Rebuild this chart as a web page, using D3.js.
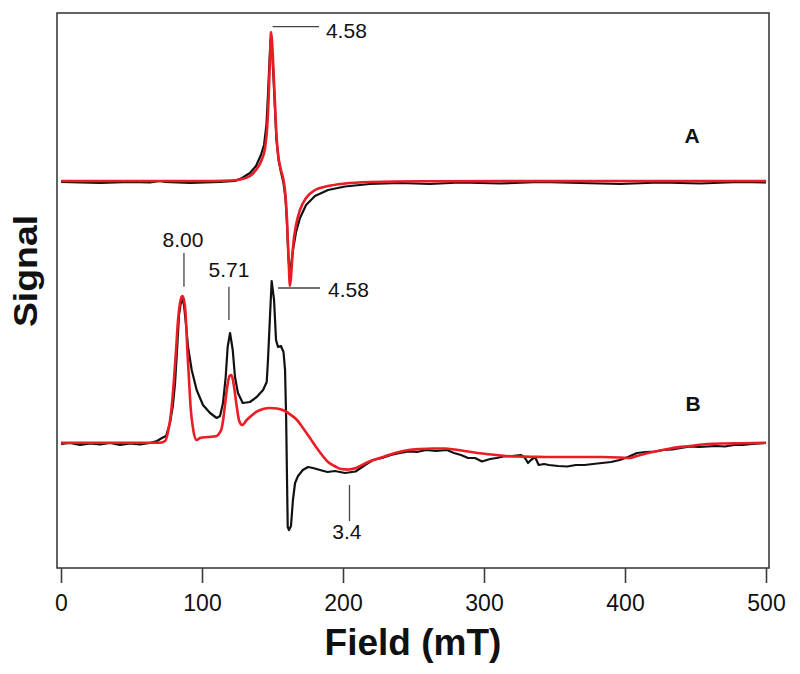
<!DOCTYPE html>
<html><head><meta charset="utf-8">
<script src="https://cdn.jsdelivr.net/npm/d3@7"></script>
<style>html,body{margin:0;padding:0;background:#fff}svg{display:block}</style>
</head><body>
<svg id="chart" width="800" height="674"></svg>
<script>
// ---- data (field in mT, signal in arbitrary units) ----
const xTicks = [0, 100, 200, 300, 400, 500];

const blackA_field = [0,27.7,48.9,63.1,70.2,73.8,91.5,112.8,123.4,128.4,134.0,138.3,141.8,144.0,145.7,146.8,147.9,148.6,149.6,150.7,151.8,152.8,154.3,156.0,157.8,159.2,160.3,161.3,162.2,163.1,164.5,166.7,169.5,173.8,180.1,189.4,201.4,219.1,240.4,261.7,283.0,311.3,339.7,368.1,396.5,424.8,453.2,481.6,500];
const blackA_signal = [386,385,386,385.5,387,386,385,386,387,390,395,402,413,423,443,473,508,528,520,490,458,428,408,396,385,370,343,310,296,302,318,336,350,363,372,378,381.5,384,385,384,385.5,384.5,386,385,384,385.5,384.5,386,385.5];

const redA_field = [0,98.6,119.9,127.0,134.0,138.3,142.3,144.7,146.1,147.2,148.2,148.9,149.6,150.7,151.8,152.8,154.3,156.0,157.8,159.2,160.3,161.3,162.4,163.5,164.5,166.7,169.5,173.8,180.1,189.4,201.4,219.1,254.6,500];
const redA_signal = [387,387,387.5,388.5,392,398,408,420,438,468,508,536,528,498,463,433,410,398,388,373,348,313,282,298,320,343,358,370,378,382,384.5,386,386.8,387];

const blackB_field = [0,6.4,13.5,20.6,27.7,34.8,41.8,48.9,56.0,63.1,68.1,71.6,74.5,77.3,79.4,80.9,82.3,83.7,85.6,87.2,88.7,90.1,92.7,96.2,100.7,105.7,110.4,112.8,114.9,116.8,118.2,119.9,121.8,123.4,125.5,128.9,134.0,138.8,143.3,145.9,146.8,148.2,149.4,151.1,152.5,153.9,156.0,157.8,158.9,159.7,160.3,160.8,161.7,163.1,164.5,166.0,168.1,171.5,175.2,178.7,183.7,189.0,194.3,201.4,208.9,215.6,221.3,227.7,234.0,240.4,246.5,252.5,258.9,266.0,273.8,278.7,283.7,288.7,293.6,298.6,304.3,308.9,313.8,319.9,326.2,329.1,331.2,333.3,336.2,338.8,342.6,346.1,352.5,358.9,365.2,371.3,377.3,383.7,390.1,396.2,402.1,408.5,414.9,421.3,427.0,433.7,439.7,446.1,452.5,458.6,464.5,470.9,477.3,483.7,490.1,495.7,500];
const blackB_signal = [124,125,123,124.5,123.5,125,123,124.5,123.5,125,127,130,132,145,163,185,218,253,271,263,243,221,198,178,163,155,150,152,165,191,221,235,218,191,175,165,166,171,178,186,208,251,287,268,228,221,222,216,198,148,88,41,38,42,68,85,92,98,101,100,98,96,97,95,96.5,103,108,110,113,115,116.5,116,118,117,118,115,113,110,110,106.5,109,110,111.5,112,113,110,105,108,111,103,104,103,102,101.5,103,103,104,105,106,108,111,115,116,116.5,118,118.5,120,121.5,121,121.5,122,121.5,123,123,124,124.5,125];

const redB_field = [0,70.2,73.8,75.9,78.5,80.1,81.6,83.0,84.4,86.0,87.2,88.3,89.6,90.8,91.8,93.8,96.2,98.6,104.3,110.4,112.4,114.0,115.2,116.7,118.1,119.5,120.9,122.3,124.6,126.2,128.4,131.7,134.8,138.8,143.3,148.2,153.2,158.9,163.1,167.4,171.6,176.6,180.9,185.1,189.4,194.0,198.6,204.0,209.2,216.3,222.7,228.9,236.9,246.5,254.6,263.8,272.3,279.4,288.7,298.6,308.9,322.0,333.8,346.8,358.9,371.6,383.7,396.5,403.5,408.5,414.9,421.3,428.4,433.7,446.1,458.6,470.9,483.7,500];
const redB_signal = [125.3,125.3,127,136,161,188,218,248,265,272,268,256,218,188,163,138,128,130,131,132,135,140,150,168,183,192,193,185,162,148,143,148,152,156.3,159,160,159.5,157,153,148,140,130,121,113,106,102,99,98.5,100,105,108.5,111.3,115,118,119,119.5,119.5,118.5,116.5,114.5,113,111.5,111.3,111,111,111,111,110.5,110,112,114.5,116.5,118.5,120,122,124,124.5,124.7,125.3];

// annotations: g-values with leader lines (field, signal)
const annoText   = ["4.58", "4.58", "8.00", "5.71", "3.4"];
const annoLine   = [
  [[150.1, 541.3], [183.0, 541.3]],
  [[153.9, 280.0], [183.7, 280.0]],
  [[87.2, 315.0], [87.2, 281.3]],
  [[119.1, 281.3], [119.1, 248.0]],
  [[204.6, 83.0], [204.6, 47.0]]
];
const annoPos    = [[187.9, 530], [189.4, 271.5], [86.5, 321.3], [119.1, 291.3], [202.8, 29]];
const annoAnchor = ["start", "start", "middle", "middle", "middle"];

const traceLabels = ["A", "B"];
const traceLabelPos = [[447.5, 425], [448.2, 157]];

// ---- drawing ----
const svg = d3.select("#chart");
const frame = {left: 57, right: 769, top: 13, bottom: 568};
const x = d3.scaleLinear().domain([0, 500]).range([61, 766]);
const y = d3.scaleLinear().domain([0, 555]).range([568, 13]);
const FONT = "'Liberation Sans', Arial, Helvetica, sans-serif";

// frame
svg.append("rect")
  .attr("x", frame.left).attr("y", frame.top)
  .attr("width", frame.right - frame.left).attr("height", frame.bottom - frame.top)
  .attr("fill", "none").attr("stroke", "#3c3c3c").attr("stroke-width", 1.6);

// bottom axis
const xAxis = d3.axisBottom(x).tickValues(xTicks).tickSize(15).tickPadding(12).tickFormat(d3.format("d"));
const gx = svg.append("g").attr("transform", `translate(0,${frame.bottom})`).call(xAxis);
gx.select(".domain").remove();
gx.selectAll(".tick line").attr("stroke", "#3c3c3c").attr("stroke-width", 1.6);
gx.selectAll(".tick text").attr("fill", "#111").style("font-family", FONT).style("font-size", "23px");

function series(fields, signals) { return fields.map((f, i) => [f, signals[i]]); }
const lineSmooth = d3.line().x(d => x(d[0])).y(d => y(d[1])).curve(d3.curveMonotoneX);
const lineRaw = d3.line().x(d => x(d[0])).y(d => y(d[1])).curve(d3.curveLinear);

const clip = svg.append("defs").append("clipPath").attr("id", "clip")
  .append("rect").attr("x", frame.left).attr("y", frame.top)
  .attr("width", frame.right - frame.left).attr("height", frame.bottom - frame.top);
const plot = svg.append("g").attr("clip-path", "url(#clip)");

plot.append("path").datum(series(blackA_field, blackA_signal)).attr("d", lineRaw)
  .attr("fill", "none").attr("stroke", "#111").attr("stroke-width", 2.2).attr("stroke-linejoin", "round");
plot.append("path").datum(series(blackB_field, blackB_signal)).attr("d", lineRaw)
  .attr("fill", "none").attr("stroke", "#111").attr("stroke-width", 2.2).attr("stroke-linejoin", "round");
plot.append("path").datum(series(redA_field, redA_signal)).attr("d", lineSmooth)
  .attr("fill", "none").attr("stroke", "#ea1c24").attr("stroke-width", 2.6);
plot.append("path").datum(series(redB_field, redB_signal)).attr("d", lineSmooth)
  .attr("fill", "none").attr("stroke", "#ea1c24").attr("stroke-width", 2.6);

// annotations
annoLine.forEach((seg, i) => {
  svg.append("line")
    .attr("x1", x(seg[0][0])).attr("y1", y(seg[0][1]))
    .attr("x2", x(seg[1][0])).attr("y2", y(seg[1][1]))
    .attr("stroke", "#444").attr("stroke-width", 1.3);
});
annoText.forEach((t, i) => {
  svg.append("text").attr("x", x(annoPos[i][0])).attr("y", y(annoPos[i][1]))
    .attr("text-anchor", annoAnchor[i]).style("font-family", FONT).style("font-size", "21px")
    .attr("fill", "#111").text(t);
});
traceLabels.forEach((t, i) => {
  svg.append("text").attr("x", x(traceLabelPos[i][0])).attr("y", y(traceLabelPos[i][1]))
    .attr("text-anchor", "middle").style("font-family", FONT).style("font-size", "21px")
    .style("font-weight", "bold").attr("fill", "#111").text(t);
});

// axis titles
svg.append("text").attr("x", (frame.left + frame.right) / 2).attr("y", 655)
  .attr("text-anchor", "middle").style("font-family", FONT).style("font-size", "37px")
  .style("font-weight", "bold").attr("fill", "#111").text("Field (mT)");
svg.append("text").attr("transform", "translate(37,271) rotate(-90) scale(1.1,1)")
  .attr("text-anchor", "middle").style("font-family", FONT).style("font-size", "34px")
  .style("font-weight", "bold").attr("fill", "#111").text("Signal");
</script>
</body></html>
